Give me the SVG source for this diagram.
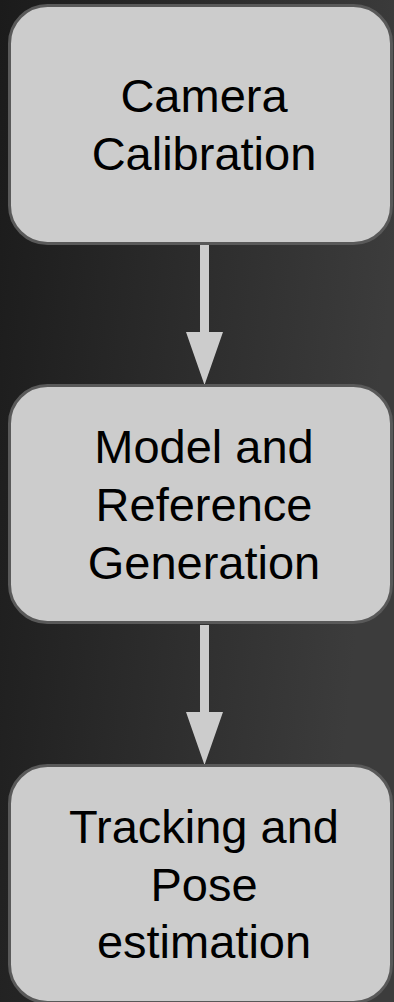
<svg xmlns="http://www.w3.org/2000/svg" width="394" height="1002" viewBox="0 0 394 1002">
<defs>
<linearGradient id="bg" x1="0" y1="0" x2="1" y2="0.25">
<stop offset="0" stop-color="#1b1b1b"/>
<stop offset="1" stop-color="#3c3c3c"/>
</linearGradient>
</defs>
<style>
.box{fill:#cccccc;stroke:#595959;stroke-width:3}
.lbl{font-family:"Liberation Sans",Arial,sans-serif;font-size:47px;fill:#000;text-anchor:middle}
.arr{fill:#cccccc}
</style>
<rect x="0" y="0" width="394" height="1002" fill="url(#bg)"/>
<g id="connectors">
<path class="arr" d="M200,245 H209 V332 H223 L204.5,385 L186,332 H200 Z"/>
<path class="arr" d="M200,625 H209 V712 H223 L204.5,765 L186,712 H200 Z"/>
</g>
<g id="node-camera">
<rect class="box" x="9.5" y="5.5" width="382" height="238" rx="38"/>
<text class="lbl" x="204" y="112">Camera</text>
<text class="lbl" x="204" y="170">Calibration</text>
</g>
<g id="node-model">
<rect class="box" x="9.5" y="385.5" width="382" height="237" rx="38"/>
<text class="lbl" x="204" y="463">Model and</text>
<text class="lbl" x="204" y="521">Reference</text>
<text class="lbl" x="204" y="579">Generation</text>
</g>
<g id="node-tracking">
<rect class="box" x="9.5" y="765.5" width="382" height="237" rx="38"/>
<text class="lbl" x="204" y="843">Tracking and</text>
<text class="lbl" x="204" y="901">Pose</text>
<text class="lbl" x="204" y="958">estimation</text>
</g>
</svg>
